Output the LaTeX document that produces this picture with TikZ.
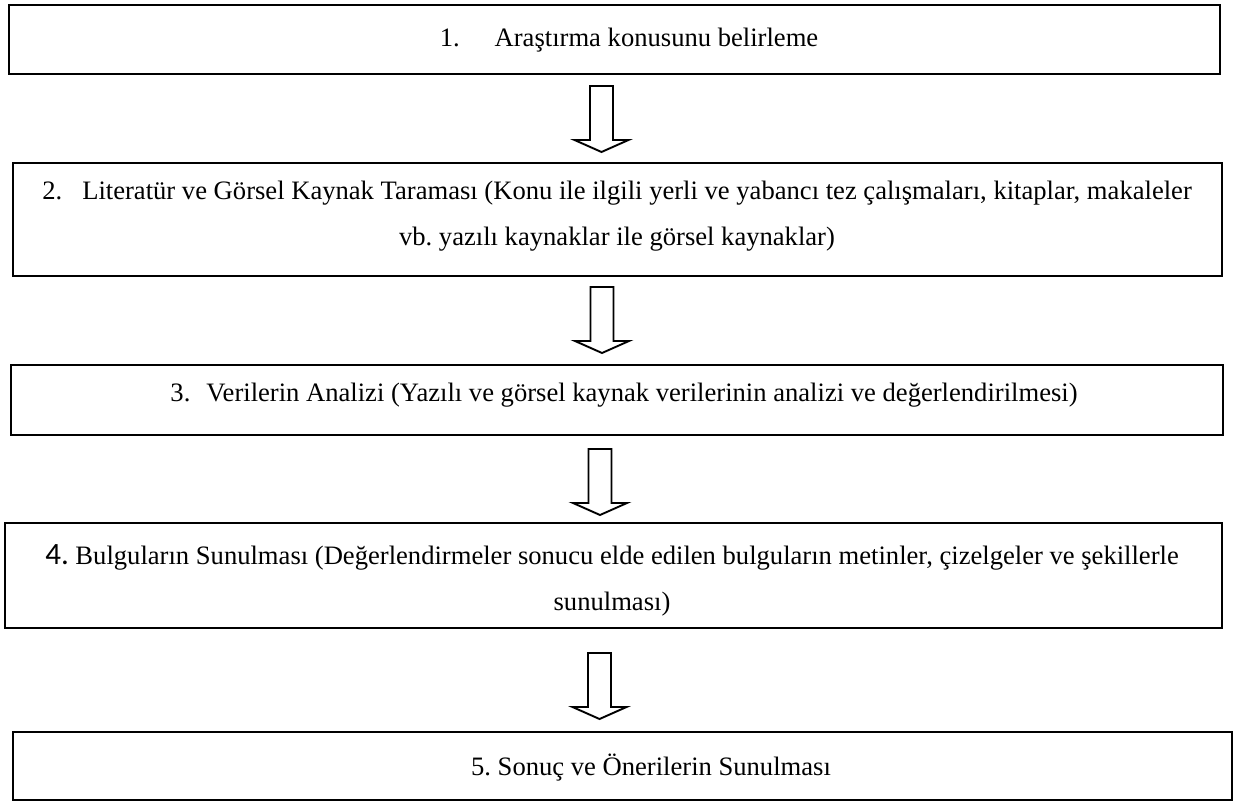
\documentclass[tikz,border=0pt]{standalone}
\usepackage{fontspec}
\setmainfont{Liberation Serif}
\newfontfamily\numfont{Carlito}

% hollow block arrow pointing down, #1 = top of the shaft
\newcommand{\blockarrow}[1]{%
  \draw[arrow line] (#1) ++(-11.5,0) -- ++(23,0) -- ++(0,54) -- ++(15.5,0)
    -- ++(-27,12) -- ++(-27,-12) -- ++(15.5,0) -- cycle;}

\begin{document}
\frenchspacing
\begin{tikzpicture}[x=1pt,y=-1pt,
  box/.style={draw,line width=2.8pt,inner sep=0pt},
  steptext/.style={font=\fontsize{26.6}{46}\selectfont,align=center,inner sep=0pt},
  arrow line/.style={draw,line width=1.9pt,line join=miter,fill=white}]

  \useasboundingbox (0,0) rectangle (1241,801);

  % boxes
  \node[box,minimum width=1211pt,minimum height=69pt]  (b1) at (614.5,39.5) {};
  \node[box,minimum width=1209pt,minimum height=113pt] (b2) at (617.5,219.5) {};
  \node[box,minimum width=1212pt,minimum height=70pt]  (b3) at (617,400) {};
  \node[box,minimum width=1217pt,minimum height=105pt] (b4) at (613.5,575.5) {};
  \node[box,minimum width=1219pt,minimum height=68pt]  (b5) at (622.5,766) {};

  % texts
  \node[steptext] (t1) at (629,40) {1.\hspace{35pt}Araştırma konusunu belirleme};
  \node[steptext] (t2) at (617,216) {2.\hspace{20pt}Literatür ve Görsel Kaynak Taraması (Konu ile ilgili yerli ve yabancı tez çalışmaları, kitaplar, makaleler\\
    vb. yazılı kaynaklar ile görsel kaynaklar)};
  \node[steptext] (t3) at (624,395) {3.\hspace{16pt}Verilerin Analizi (Yazılı ve görsel kaynak verilerinin analizi ve değerlendirilmesi)};
  \node[steptext] (t4) at (612,580) {{\numfont\fontsize{31}{46}\selectfont 4.} Bulguların Sunulması (Değerlendirmeler sonucu elde edilen bulguların metinler, çizelgeler ve şekillerle\\
    sunulması)};
  \node[steptext] (t5) at (651,768) {5. Sonuç ve Önerilerin Sunulması};

  % arrows
  \coordinate (a1) at (601.5,86);
  \coordinate (a2) at (602,287);
  \coordinate (a3) at (600,449);
  \coordinate (a4) at (599.5,653);
  \foreach \a in {a1,a2,a3,a4}
    \blockarrow{\a};
\end{tikzpicture}
\end{document}
